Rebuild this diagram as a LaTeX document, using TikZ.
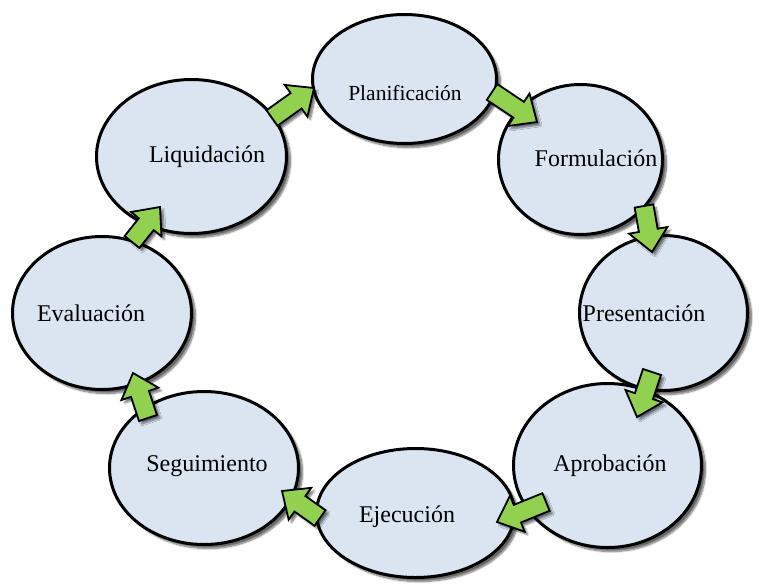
\documentclass[tikz,border=0pt]{standalone}
\usepackage{fontspec}
\setmainfont{Liberation Serif}
\usetikzlibrary{calc,shadows.blur,shapes.geometric}
\definecolor{stagefill}{HTML}{DBE5F1}
\definecolor{flowgreen}{HTML}{92D050}
\tikzset{
  stage/.style={ellipse, draw=black, line width=3pt, fill=stagefill, inner sep=0pt,
    blur shadow={shadow xshift=4pt, shadow yshift=-4pt, shadow blur steps=8, shadow opacity=60}},
  lbl/.style={font=\fontsize{24}{27}\selectfont, inner sep=0pt},
  flow/.style={draw=black, line width=1.8pt, fill=flowgreen, line join=miter,
    blur shadow={shadow xshift=3pt, shadow yshift=-3pt, shadow blur steps=6, shadow opacity=55}}
}
% block arrow from coordinate #1 (tail) to coordinate #2 (tip)
\newcommand\blockarrow[2]{%
  \coordinate (#1-hb) at ($(#2)!22pt!(#1)$);
  \draw[flow] ($(#1)!9.5pt!90:(#2)$) -- ($(#1-hb)!9.5pt!90:(#2)$) -- ($(#1-hb)!19.5pt!90:(#2)$)
    -- (#2) -- ($(#1-hb)!19.5pt!-90:(#2)$) -- ($(#1-hb)!9.5pt!-90:(#2)$) -- ($(#1)!9.5pt!-90:(#2)$) -- cycle;}
\begin{document}
\begin{tikzpicture}[x=1pt,y=-1pt]
\useasboundingbox (0,0) rectangle (759,586);

% stages of the cycle
\node[stage, minimum width=184pt, minimum height=129pt] (plan) at (404.5,79) {};
\node[stage, minimum width=164pt, minimum height=150pt] (form) at (580.5,159.5) {};
\node[stage, minimum width=168pt, minimum height=155pt] (pres) at (663.5,313) {};
\node[stage, minimum width=188pt, minimum height=164pt] (apro) at (607.5,465.5) {};
\node[stage, minimum width=198pt, minimum height=129pt] (ejec) at (415.5,513) {};
\node[stage, minimum width=189pt, minimum height=153pt] (segu) at (204,468) {};
\node[stage, minimum width=179pt, minimum height=153pt] (eval) at (102,313) {};
\node[stage, minimum width=190pt, minimum height=154pt] (liqu) at (191.5,156.5) {};

% stage names
\node[lbl, font=\fontsize{21.5}{24}\selectfont] (tplan) at (405,93) {Planificación};
\node[lbl] (tform) at (596,158) {Formulación};
\node[lbl] (tpres) at (644,313) {Presentación};
\node[lbl] (tapro) at (610,466) {Aprobación};
\node[lbl] (tejec) at (407,517) {Ejecución};
\node[lbl] (tsegu) at (207,466) {Seguimiento};
\node[lbl] (teval) at (91,313) {Evaluación};
\node[lbl] (tliqu) at (207,157) {Liquidación};

% arrow ends
\coordinate (a1) at (272,118); \coordinate (b1) at (314,88);
\coordinate (a2) at (492,92);  \coordinate (b2) at (537,122);
\coordinate (a3) at (644,206); \coordinate (b3) at (652,252);
\coordinate (a4) at (652,372); \coordinate (b4) at (637,417);
\coordinate (a5) at (546,502); \coordinate (b5) at (497,522);
\coordinate (a6) at (320,518); \coordinate (b6) at (282,491);
\coordinate (a7) at (148,418); \coordinate (b7) at (133,373);
\coordinate (a8) at (132,242); \coordinate (b8) at (160,207);

\blockarrow{a1}{b1}
\blockarrow{a2}{b2}
\blockarrow{a3}{b3}
\blockarrow{a4}{b4}
\blockarrow{a5}{b5}
\blockarrow{a6}{b6}
\blockarrow{a7}{b7}
\blockarrow{a8}{b8}
\end{tikzpicture}
\end{document}
